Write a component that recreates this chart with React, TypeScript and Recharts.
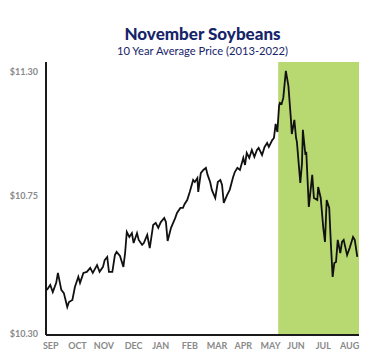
import React from "react";
import { LineChart, Line, XAxis, YAxis, ReferenceArea } from "recharts";

// Days since Sep 1 of the marketing season
const days = [
  1, 5, 8, 12, 14, 18, 21, 25, 27, 31, 34, 38, 40, 44, 48, 52, 55, 60, 63, 67,
  69, 72, 74, 78, 81, 83, 87, 91, 93, 95, 98, 101, 103, 107, 109, 113, 115, 119, 122, 126,
  129, 132, 135, 139, 141, 143, 147, 149, 152, 154, 158, 161, 163, 166, 169, 173, 175, 178, 179, 182,
  185, 188, 190, 193, 195, 199, 202, 205, 207, 209, 213, 216, 220, 222, 225, 228, 232, 234, 236, 239,
  242, 245, 248, 250, 254, 257, 260, 262, 266, 268, 270, 272, 274, 275, 277, 279, 282, 285, 288, 289,
  292, 294, 295, 299, 301, 302, 305, 306, 309, 313, 315, 319, 320, 323, 326, 328, 330, 333, 335, 337,
  339, 341, 343, 346, 348, 350, 354, 357, 361, 363, 366,
];

// Average price ($/bu)
const prices = [
  10.468, 10.487, 10.46, 10.495, 10.533, 10.468, 10.456, 10.403, 10.422, 10.43, 10.479, 10.518, 10.495, 10.533, 10.537, 10.552, 10.533, 10.563, 10.537, 10.556,
  10.582, 10.594, 10.537, 10.537, 10.601, 10.613, 10.598, 10.556, 10.609, 10.689, 10.67, 10.685, 10.647, 10.685, 10.659, 10.64, 10.647, 10.678, 10.628, 10.716,
  10.724, 10.705, 10.727, 10.743, 10.727, 10.655, 10.705, 10.72, 10.743, 10.762, 10.781, 10.781, 10.796, 10.811, 10.842, 10.888, 10.88, 10.895, 10.842, 10.914,
  10.926, 10.934, 10.907, 10.88, 10.85, 10.819, 10.88, 10.888, 10.869, 10.8, 10.831, 10.85, 10.899, 10.918, 10.934, 10.926, 10.972, 10.945, 10.991, 10.972,
  11.002, 10.976, 11.002, 11.01, 10.983, 11.014, 11.029, 11.014, 11.04, 11.048, 11.102, 11.071, 11.17, 11.182, 11.178, 11.201, 11.304, 11.247, 11.117, 11.063,
  11.117, 11.048, 11.033, 10.876, 10.953, 11.079, 10.983, 10.995, 10.785, 10.907, 10.819, 10.811, 10.861, 10.819, 10.705, 10.651, 10.811, 10.781, 10.64, 10.518,
  10.571, 10.575, 10.659, 10.609, 10.651, 10.659, 10.601, 10.628, 10.67, 10.659, 10.594,
];

const monthLabels = ["SEP", "OCT", "NOV", "DEC", "JAN", "FEB", "MAR", "APR", "MAY", "JUN", "JUL", "AUG"];
const monthTicks = [5.6, 37, 68, 103, 135, 169, 201, 232, 264, 294, 326, 357];
// Tick positions as drawn in the source (middle label is placed above its true level)
const yTicks = [10.3, 10.827, 11.3];
const yTickLabels = ["$10.30", "$10.75", "$11.30"];
const summerStart = 273;
const seasonEnd = 368;

const data = days.map((d, i) => ({ day: d, price: prices[i] }));

const tickStyle = { fontFamily: "Lato", fontWeight: 700, fontSize: 9, fill: "#8a8a8a" };

export default function App() {
  return (
    <div style={{ position: "absolute", left: 0, top: 0, width: 383, height: 359, background: "#fff" }}>
      <div
        style={{
          position: "absolute",
          left: 0,
          width: 383,
          top: 25,
          textAlign: "center",
          paddingLeft: 22,
          boxSizing: "border-box",
          fontFamily: "Lato",
          color: "#16246a",
        }}
      >
        <div style={{ fontWeight: 900, fontSize: 17, lineHeight: "18px" }}>November Soybeans</div>
        <div style={{ fontWeight: 400, fontSize: 11.2, lineHeight: "15px" }}>10 Year Average Price (2013-2022)</div>
      </div>
      <div style={{ position: "absolute", left: 0, top: 0 }}>
        <LineChart width={383} height={359} data={data} margin={{ top: 62, right: 24, bottom: 0, left: 0 }}>
          <ReferenceArea x1={summerStart} x2={seasonEnd} fill="#b8d872" fillOpacity={1} stroke="none" ifOverflow="hidden" />
          <XAxis
            dataKey="day"
            type="number"
            domain={[0, seasonEnd]}
            ticks={monthTicks}
            tickFormatter={(v: number) => monthLabels[monthTicks.indexOf(v)] ?? ""}
            interval={0}
            height={24}
            tickLine={false}
            axisLine={{ stroke: "#1a1a1a", strokeWidth: 2 }}
            tick={tickStyle}
          />
          <YAxis
            type="number"
            domain={[10.296, 11.338]}
            ticks={yTicks}
            interval={0}
            width={46}
            tickLine={false}
            axisLine={{ stroke: "#1a1a1a", strokeWidth: 2 }}
            tick={tickStyle}
            tickFormatter={(v: number) => yTickLabels[yTicks.indexOf(v)] ?? ""}
            allowDataOverflow
          />
          <Line
            type="linear"
            dataKey="price"
            stroke="#111"
            strokeWidth={1.8}
            dot={false}
            isAnimationActive={false}
          />
        </LineChart>
      </div>
    </div>
  );
}
